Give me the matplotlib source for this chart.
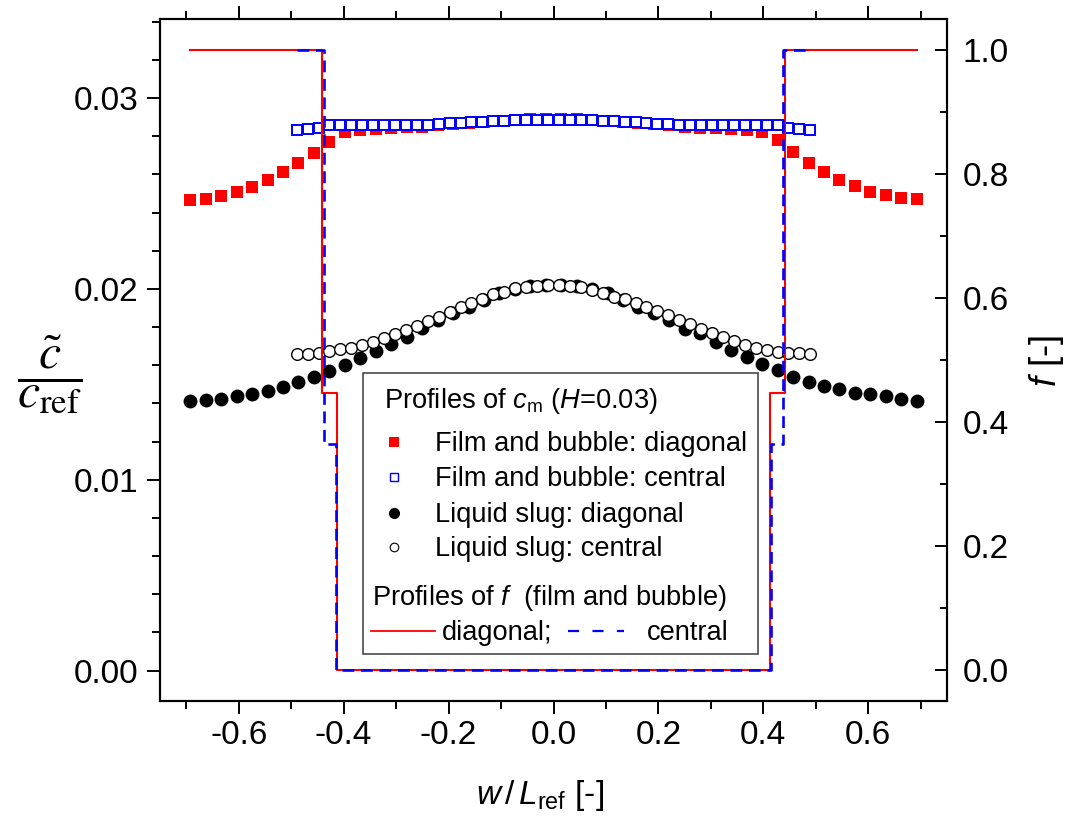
import matplotlib
matplotlib.use("Agg")
import matplotlib.pyplot as plt
from matplotlib.ticker import MultipleLocator, FormatStrFormatter
from matplotlib.patches import Rectangle

plt.rcParams['font.family'] = ['Liberation Sans', 'DejaVu Sans']
plt.rcParams['axes.unicode_minus'] = False
plt.rcParams['mathtext.fontset'] = 'custom'
plt.rcParams['mathtext.it'] = 'Liberation Sans:italic'
plt.rcParams['mathtext.rm'] = 'Liberation Sans'
plt.rcParams['mathtext.bf'] = 'Liberation Sans:bold'

# ---------------- data ----------------
# positions along the central line (film/bubble and slug, central)
x_central = [-0.4896, -0.4688, -0.4479, -0.4271, -0.4063, -0.3854, -0.3646, -0.3438,
             -0.3229, -0.3021, -0.2813, -0.2604, -0.2396, -0.2188, -0.1979, -0.1771,
             -0.1563, -0.1354, -0.1146, -0.0938, -0.0729, -0.0521, -0.0313, -0.0104,
             0.0104, 0.0313, 0.0521, 0.0729, 0.0938, 0.1146, 0.1354, 0.1563,
             0.1771, 0.1979, 0.2188, 0.2396, 0.2604, 0.2813, 0.3021, 0.3229,
             0.3438, 0.3646, 0.3854, 0.4063, 0.4271, 0.4479, 0.4688, 0.4896]
# positions along the diagonal
x_diagonal = [-0.6924, -0.6629, -0.6334, -0.6040, -0.5745, -0.5451, -0.5156, -0.4861,
              -0.4567, -0.4272, -0.3977, -0.3683, -0.3388, -0.3094, -0.2799, -0.2504,
              -0.2210, -0.1915, -0.1620, -0.1326, -0.1031, -0.0737, -0.0442, -0.0147,
              0.0147, 0.0442, 0.0737, 0.1031, 0.1326, 0.1620, 0.1915, 0.2210,
              0.2504, 0.2799, 0.3094, 0.3388, 0.3683, 0.3977, 0.4272, 0.4567,
              0.4861, 0.5156, 0.5451, 0.5745, 0.6040, 0.6334, 0.6629, 0.6924]

film_diagonal = [0.02466, 0.02471, 0.02488, 0.02509, 0.02535, 0.02570, 0.02614, 0.02661,
                 0.02713, 0.02768, 0.02824, 0.02835, 0.02836, 0.02843, 0.02846, 0.02850,
                 0.02859, 0.02866, 0.02871, 0.02877, 0.02882, 0.02887, 0.02890, 0.02892,
                 0.02892, 0.02890, 0.02887, 0.02882, 0.02877, 0.02871, 0.02866, 0.02858,
                 0.02850, 0.02845, 0.02843, 0.02836, 0.02835, 0.02824, 0.02779, 0.02719,
                 0.02661, 0.02614, 0.02570, 0.02538, 0.02509, 0.02492, 0.02475, 0.02469]

film_central = [0.02832, 0.02838, 0.02844, 0.02857, 0.02860, 0.02860, 0.02857, 0.02857,
                0.02857, 0.02857, 0.02857, 0.02860, 0.02860, 0.02862, 0.02868, 0.02869,
                0.02873, 0.02876, 0.02880, 0.02881, 0.02883, 0.02885, 0.02886, 0.02886,
                0.02886, 0.02886, 0.02885, 0.02883, 0.02880, 0.02878, 0.02874, 0.02873,
                0.02869, 0.02865, 0.02862, 0.02859, 0.02857, 0.02859, 0.02859, 0.02859,
                0.02859, 0.02859, 0.02859, 0.02859, 0.02859, 0.02841, 0.02836, 0.02832]

slug_diagonal = [0.01414, 0.01418, 0.01423, 0.01439, 0.01449, 0.01467, 0.01488, 0.01511,
                 0.01537, 0.01570, 0.01601, 0.01640, 0.01673, 0.01713, 0.01750, 0.01794,
                 0.01837, 0.01872, 0.01907, 0.01944, 0.01977, 0.02000, 0.02013, 0.02018,
                 0.02018, 0.02013, 0.02000, 0.01977, 0.01944, 0.01907, 0.01872, 0.01835,
                 0.01789, 0.01767, 0.01723, 0.01680, 0.01642, 0.01607, 0.01575, 0.01540,
                 0.01514, 0.01492, 0.01473, 0.01457, 0.01449, 0.01439, 0.01423, 0.01414]

slug_central = [0.01659, 0.01659, 0.01663, 0.01675, 0.01684, 0.01692, 0.01706, 0.01723,
                0.01741, 0.01762, 0.01785, 0.01807, 0.01833, 0.01854, 0.01881, 0.01904,
                0.01925, 0.01947, 0.01972, 0.01985, 0.02003, 0.02012, 0.02017, 0.02020,
                0.02020, 0.02017, 0.02012, 0.01994, 0.01977, 0.01959, 0.01946, 0.01928,
                0.01904, 0.01886, 0.01863, 0.01837, 0.01816, 0.01788, 0.01767, 0.01746,
                0.01729, 0.01706, 0.01692, 0.01680, 0.01671, 0.01666, 0.01663, 0.01659]

# step profiles of f (vertices)
f_diag_x = [-0.6924, -0.441, -0.441, -0.413, -0.413, 0.413, 0.413, 0.441, 0.441, 0.6924]
f_diag_y = [1.0, 1.0, 0.447, 0.447, 0.0, 0.0, 0.447, 0.447, 1.0, 1.0]
f_cent_x = [-0.4896, -0.4375, -0.4375, -0.4155, -0.4155, 0.4155, 0.4155, 0.4375, 0.4375, 0.4896]
f_cent_y = [1.0, 1.0, 0.365, 0.365, 0.0, 0.0, 0.365, 0.365, 1.0, 1.0]

x_ticks = [-0.6, -0.4, -0.2, 0.0, 0.2, 0.4, 0.6]
c_ticks = [0.00, 0.01, 0.02, 0.03]
f_ticks = [0.0, 0.2, 0.4, 0.6, 0.8, 1.0]

# ---------------- figure ----------------
W, H = 1071, 822
fig = plt.figure(figsize=(W / 100, H / 100), dpi=100)
L, R, T, B = 160, 947, 19, 701
ax1 = fig.add_axes([L / W, (H - B) / H, (R - L) / W, (B - T) / H])
ax2 = ax1.twinx()

RED = '#FF0000'
BLUE = '#0000FF'

ax1.plot(x_diagonal, film_diagonal, ls='none', marker='s', ms=8.0, mfc=RED, mec=RED, mew=0, zorder=2)
ax1.plot(x_central, film_central, ls='none', marker='s', ms=7.2, mfc='white', mec=BLUE, mew=1.4, zorder=3)
ax1.plot(x_diagonal, slug_diagonal, ls='none', marker='o', ms=10.0, mfc='black', mec='black', mew=0, zorder=4)
ax1.plot(x_central, slug_central, ls='none', marker='o', ms=8.4, mfc='white', mec='black', mew=1.0, zorder=5)

ax2.plot(f_diag_x, f_diag_y, color=RED, lw=1.5, zorder=3)
ax2.plot(f_cent_x, f_cent_y, color=BLUE, lw=1.9, ls=(0, (4.5, 2.5)), zorder=4)

ax1.set_xlim(-0.75, 0.75)
ax1.set_ylim(-0.00159, 0.03414)
ax2.set_ylim(-0.05, 1.05)

ax1.set_xticks(x_ticks)
ax1.xaxis.set_major_formatter(FormatStrFormatter('%.1f'))
ax1.xaxis.set_minor_locator(MultipleLocator(0.1))
ax1.set_yticks(c_ticks)
ax1.yaxis.set_major_formatter(FormatStrFormatter('%.2f'))
ax1.yaxis.set_minor_locator(MultipleLocator(0.002))
ax2.set_yticks(f_ticks)
ax2.yaxis.set_major_formatter(FormatStrFormatter('%.1f'))
ax2.yaxis.set_minor_locator(MultipleLocator(0.1))

for a in (ax1, ax2):
    for s in a.spines.values():
        s.set_linewidth(1.5)

ax1.tick_params(axis='x', which='both', direction='out', top=True, bottom=True,
                labeltop=False, width=1.4, labelsize=24, pad=4)
ax1.tick_params(axis='y', which='both', direction='out', left=True, right=False,
                width=1.4, labelsize=24, pad=6)
ax1.tick_params(which='major', length=9.5)
ax1.tick_params(which='minor', length=5.5)
ax2.tick_params(axis='y', which='both', direction='in', right=True, width=1.4,
                labelsize=24, pad=11)
ax2.tick_params(axis='y', which='major', length=9)
ax2.tick_params(axis='y', which='minor', length=5)

# axis labels
fig.text(540 / W, 1 - 795 / H, r'$w\,/\,L_{\mathrm{ref}}$ [-]', fontsize=24,
         ha='center', va='center')
fig.text(1046 / W, 1 - 361 / H, r'$f$ [-]', fontsize=26, rotation=90,
         ha='center', va='center')
fig.text(50 / W, 1 - 375 / H, r'$\dfrac{\tilde{c}}{c_{\mathrm{ref}}}$', fontsize=36,
         ha='center', va='center', math_fontfamily='stix')

# legend (drawn in axes fraction coordinates)
def ax_x(px):
    return (px - L) / (R - L)

def ax_y(py):
    return (B - py) / (B - T)

tr = ax2.transAxes
box = Rectangle((ax_x(363), ax_y(654)), ax_x(758) - ax_x(363), ax_y(373) - ax_y(654),
                transform=tr, facecolor='white', edgecolor='#3a3a3a', lw=1.1, zorder=10)
ax2.add_patch(box)

LFS = 19.6
ax2.text(ax_x(384), ax_y(408), r'Profiles of $c_{\mathrm{m}}$ ($H$=0.03)', transform=tr,
         fontsize=LFS, ha='left', va='baseline', zorder=11)
row_marker_y = [441.7, 476.7, 512.7, 546.7]
row_base_y = [450.5, 486, 521.5, 556]
row_labels = ['Film and bubble: diagonal', 'Film and bubble: central',
              'Liquid slug: diagonal', 'Liquid slug: central']
row_styles = [dict(marker='s', ms=7.5, mfc=RED, mec=RED, mew=0),
              dict(marker='s', ms=5.2, mfc='white', mec=BLUE, mew=1.0),
              dict(marker='o', ms=8.0, mfc='black', mec='black', mew=0),
              dict(marker='o', ms=6.2, mfc='white', mec='black', mew=0.8)]
for my, by, lab, st in zip(row_marker_y, row_base_y, row_labels, row_styles):
    ax2.plot([ax_x(394.3)], [ax_y(my)], ls='none', transform=tr, clip_on=False, zorder=11, **st)
    ax2.text(ax_x(435), ax_y(by), lab, transform=tr, fontsize=LFS, ha='left',
             va='baseline', zorder=11)

ax2.text(ax_x(372), ax_y(605), r'Profiles of $f$  (film and bubble)', transform=tr,
         fontsize=LFS, ha='left', va='baseline', zorder=11)
ax2.plot([ax_x(371), ax_x(435)], [ax_y(631), ax_y(631)], color=RED, lw=1.3,
         transform=tr, clip_on=False, zorder=11)
ax2.text(ax_x(442), ax_y(639.5), 'diagonal;', transform=tr, fontsize=LFS, ha='left',
         va='baseline', zorder=11)
ax2.plot([ax_x(568), ax_x(624)], [ax_y(631), ax_y(631)], color=BLUE, lw=1.6,
         ls=(0, (5, 6)), transform=tr, clip_on=False, zorder=11)
ax2.text(ax_x(647), ax_y(639.5), 'central', transform=tr, fontsize=LFS, ha='left',
         va='baseline', zorder=11)

fig.savefig('out.png', dpi=100)
